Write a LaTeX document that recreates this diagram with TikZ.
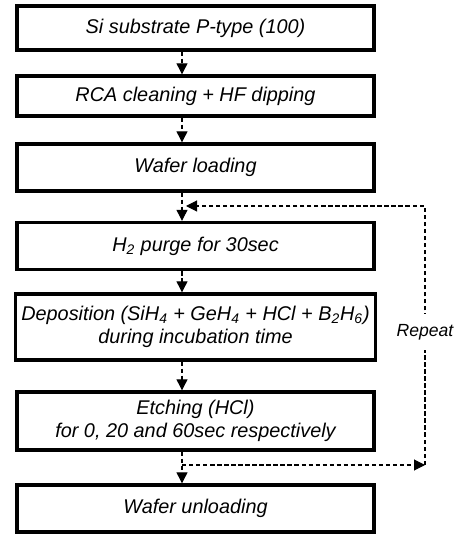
\documentclass[tikz,border=0pt]{standalone}
\usepackage{fontspec}
\setmainfont{Liberation Sans}
\usetikzlibrary{arrows.meta}

\begin{document}
\begin{tikzpicture}[
        stepbox/.style={draw=black, line width=1.9pt, minimum width=7.14cm, align=center, font=\fontsize{11.3}{13}\selectfont\itshape},
        flow/.style={-{Triangle[length=0.22cm,width=0.22cm]}, line width=0.6pt, dash pattern=on 2.5pt off 1.5pt}
    ]
        \useasboundingbox (0,0) rectangle (9.18,10.68);

        % Process steps
        \node[stepbox, minimum height=0.88cm] (sub) at (3.91,10.12) {Si substrate P-type (100)};
        \node[stepbox, minimum height=0.80cm] (rca) at (3.91,8.76) {RCA cleaning + HF dipping};
        \node[stepbox, minimum height=0.94cm] (load) at (3.91,7.33) {Wafer loading};
        \node[stepbox, minimum height=0.94cm] (purge) at (3.91,5.76) {H\textsubscript{2} purge for 30sec};
        \node[stepbox, minimum height=1.32cm] (dep) at (3.91,4.14) {Deposition (SiH\textsubscript{4} + GeH\textsubscript{4} + HCl + B\textsubscript{2}H\textsubscript{6})\\during incubation time};
        \node[stepbox, minimum height=1.16cm] (etch) at (3.91,2.26) {Etching (HCl)\\for 0, 20 and 60sec respectively};
        \node[stepbox, minimum height=0.94cm] (unload) at (3.91,0.51) {Wafer unloading};

        % Arrows between the steps
        \draw[flow] ([xshift=-0.27cm]sub.south) -- ([xshift=-0.27cm]rca.north);
        \draw[flow] ([xshift=-0.27cm]rca.south) -- ([xshift=-0.27cm]load.north);
        \draw[flow] ([xshift=-0.27cm]load.south) -- ([xshift=-0.27cm]purge.north);
        \draw[flow] ([xshift=-0.27cm]purge.south) -- ([xshift=-0.27cm]dep.north);
        \draw[flow] ([xshift=-0.27cm]dep.south) -- ([xshift=-0.27cm]etch.north);
        \draw[flow] ([xshift=-0.27cm]etch.south) -- ([xshift=-0.27cm]unload.north);

        % Repeat loop
        \coordinate (fork) at (3.64,1.38);
        \coordinate (corner) at (8.5,1.38);
        \coordinate (back) at (3.72,6.56);
        \draw[flow] (fork) -- (corner);
        \draw[flow] (corner) |- (back);
        \node[fill=white, inner xsep=1pt, inner ysep=0.2cm, font=\fontsize{10}{12}\selectfont\itshape] (rep) at (8.5,4.04) {Repeat};
    \end{tikzpicture}
\end{document}
